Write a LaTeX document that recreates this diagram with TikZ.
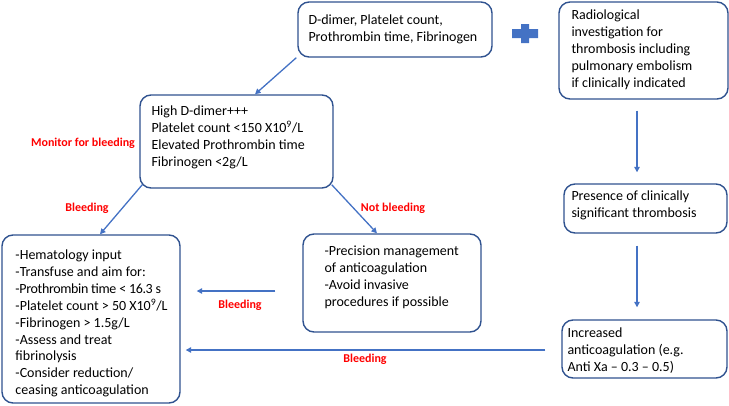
\documentclass[tikz,border=0pt]{standalone}
\usepackage{fontspec}
\setmainfont{Carlito}
\usetikzlibrary{arrows.meta,calc}
\definecolor{boxblue}{HTML}{2F528F}
\definecolor{arrblue}{HTML}{4472C4}
\definecolor{lblred}{HTML}{FF0000}
\begin{document}
\begin{tikzpicture}[x=1pt,y=-1pt,
  box/.style={draw=boxblue,line width=1.4pt,rounded corners=11pt,inner sep=0pt},
  txt/.style={anchor=west,align=left,inner sep=0pt,font=\fontsize{14}{16.9}\selectfont},
  lbl/.style={text=lblred,inner sep=0pt,font=\fontsize{12}{13}\selectfont\bfseries},
  arr/.style={draw=arrblue,line width=1.3pt,-{Triangle[length=5.5pt,width=5.5pt]}}]
\useasboundingbox (0,0) rectangle (729,405);
% boxes
\node[box,minimum width=194pt,minimum height=55pt] (top) at (395,29.5) {};
\node[box,minimum width=169pt,minimum height=97pt] (rad) at (643.5,50.5) {};
\node[box,minimum width=193pt,minimum height=93pt] (hd) at (236.5,141.5) {};
\node[box,minimum width=178pt,minimum height=168pt] (lb) at (91,319) {};
\node[box,minimum width=178pt,minimum height=98pt] (mid) at (392,283) {};
\node[box,minimum width=163pt,minimum height=49pt] (pres) at (645.5,208.5) {};
\node[box,minimum width=165pt,minimum height=58pt] (inc) at (644.5,349) {};
% texts
\node[txt] (topt) at ($(top.west)+(11,0)$) {D-dimer, Platelet count,\\Prothrombin time, Fibrinogen};
\node[txt] (radt) at ($(rad.west)+(13,-0.5)$) {Radiological\\investigation for\\thrombosis including\\pulmonary embolism\\if clinically indicated};
\node[txt] (hdt) at ($(hd.west)+(12,-4)$) {High D-dimer+++\\Platelet count {<}150 X10\textsuperscript{9}/L\\Elevated Prothrombin time\\Fibrinogen {<}2g/L};
\node[txt] (lbt) at ($(lb.west)+(14,4.5)$) {-Hematology input\\-Transfuse and aim for:\\{\addfontfeature{LetterSpace=-2.5}-Prothrombin time {<} 16.3 s}\\-Platelet count {>} 50 X10\textsuperscript{9}/L\\-Fibrinogen {>} 1.5g/L\\-Assess and treat\\fibrinolysis\\-Consider reduction/\\ceasing anticoagulation};
\node[txt] (midt) at ($(mid.west)+(22,-6)$) {-Precision management\\of anticoagulation\\-Avoid invasive\\procedures if possible};
\node[txt] (prest) at ($(pres.west)+(8,-3.5)$) {Presence of clinically\\significant thrombosis};
\node[txt] (inct) at ($(inc.west)+(6,1.5)$) {Increased\\anticoagulation (e.g.\\Anti Xa -- 0.3 -- 0.5)};
% plus sign
\fill[arrblue] (512,29) -- (521,29) -- (521,24) -- (529,24) -- (529,29) -- (538,29) -- (538,38) -- (529,38) -- (529,43) -- (521,43) -- (521,38) -- (512,38) -- cycle;
% labels
\node[lbl] (lmon) at (83,143) {Monitor for bleeding};
\node[lbl] (lb1) at (87,208) {Bleeding};
\node[lbl] (lnot) at (393,208) {Not bleeding};
\node[lbl] (lb2) at (240,305) {Bleeding};
\node[lbl] (lb3) at (365,359) {Bleeding};
% connectors
\draw[arr] ([xshift=-1pt]top.south west) -- ([xshift=18.5pt]hd.north);
\draw[arr] ([shift={(3pt,4pt)}]hd.south west) -- ([xshift=9pt]lb.north);
\draw[arr] ([shift={(-2pt,4pt)}]hd.south east) -- ([xshift=-15pt]mid.north);
\draw[arr] ($(mid.west)+(-27,8)$) -- ($(lb.east)+(16,-28)$);
\draw[arr] ($(inc.west)+(-16,1)$) -- ($(lb.east)+(5,31)$);
\draw[arr] ($(rad.south)+(-6.5,11)$) -- ($(pres.north)+(-8.5,-11)$);
\draw[arr] ($(pres.south)+(-8.5,12)$) -- ($(inc.north)+(-7.5,-12)$);
\end{tikzpicture}
\end{document}
